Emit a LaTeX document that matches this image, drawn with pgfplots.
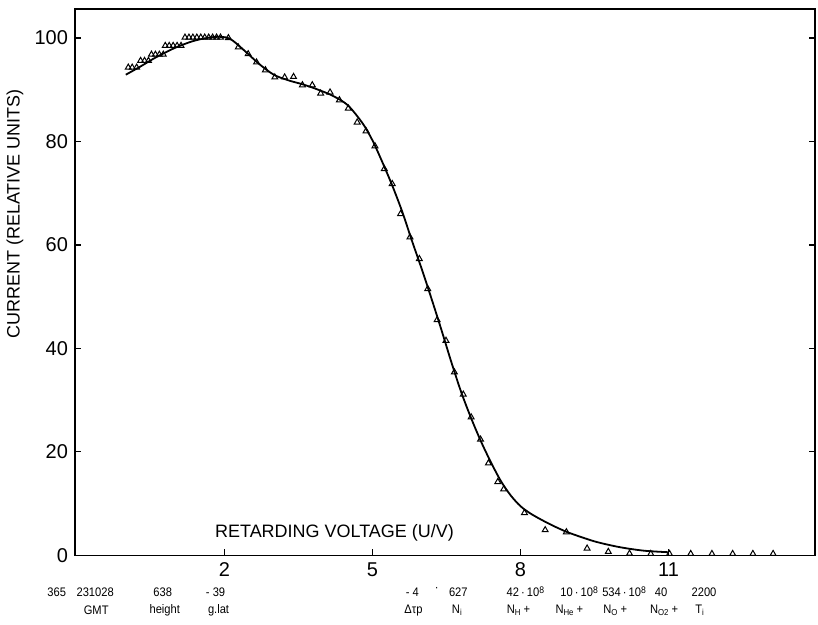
\documentclass[border=0pt]{standalone}
\usepackage{fontspec}
\setmainfont{Liberation Sans}
\newfontfamily\cond[FakeStretch=0.9]{Liberation Sans}
\usepackage{pgfplots}
\pgfplotsset{compat=1.18}
\newcommand{\expo}[1]{\raisebox{0.45ex}{\fontsize{4.8}{5}\selectfont #1}}

\begin{document}
\begin{tikzpicture}
\begin{axis}[
    width=370.5pt, height=273.5pt, scale only axis,
    xmin=-1.03, xmax=13.97, ymin=0, ymax=105.6,
    xtick={2,5,8,11}, ytick={0,20,40,60,80,100},
    xtick pos=lower, ytick pos=both,
    tick align=inside, major tick length=3pt,
    every tick/.style={black, line width=0.6pt},
    axis line style={line width=0.75pt},
    tick label style={font=\fontsize{10}{12}\selectfont},
    /pgf/number format/assume math mode=true,
    clip=false,
]
    % fitted curve
    \addplot[smooth, line width=0.9pt] coordinates {
        (0.0,92.9) (0.3,94.5) (0.6,96.2) (1.0,98.1) (1.4,99.5) (1.8,100.2)
        (2.1,99.9) (2.4,97.6) (2.7,95.0) (3.0,92.9) (3.3,91.8) (3.6,91.0)
        (3.9,90.0) (4.2,88.8) (4.5,87.0) (4.8,83.5) (5.0,80.2) (5.2,76.0)
        (5.4,71.5) (5.6,66.5) (5.8,60.8) (6.0,55.3) (6.2,49.5) (6.4,43.5)
        (6.6,37.3) (6.8,31.5) (7.0,26.5) (7.2,22.0) (7.4,18.0) (7.6,14.4)
        (7.8,11.6) (8.0,9.5) (8.2,8.1) (8.4,7.0) (8.6,6.0) (8.8,5.1)
        (9.0,4.3) (9.5,2.7) (10.0,1.6) (10.5,0.9) (11.0,0.6)
    };
    % measured points
    \addplot[only marks, mark=triangle, mark size=1.7pt, mark options={line width=0.5pt}] coordinates {
        (0.05,94.3) (0.13,94.3) (0.22,94.3)
        (0.30,95.6) (0.38,95.6) (0.46,95.6)
        (0.52,96.8) (0.60,96.8) (0.68,96.8) (0.76,96.8)
        (0.80,98.5) (0.88,98.5) (0.96,98.5) (1.04,98.5) (1.12,98.5)
        (1.20,100.1) (1.28,100.1) (1.36,100.1) (1.44,100.1) (1.52,100.1)
        (1.60,100.1) (1.68,100.1) (1.76,100.1) (1.84,100.1) (1.92,100.1)
        (2.08,100.0) (2.28,98.2) (2.48,96.9) (2.65,95.3) (2.83,93.8)
        (3.02,92.4) (3.22,92.4) (3.40,92.5) (3.58,90.9) (3.78,90.9)
        (3.95,89.3) (4.14,89.5) (4.33,88.0) (4.51,86.4) (4.69,83.7)
        (4.87,82.0) (5.05,79.1) (5.24,74.7) (5.40,71.8) (5.57,66.0)
        (5.76,61.5) (5.95,57.3) (6.12,51.5) (6.31,45.5) (6.49,41.5)
        (6.66,35.4) (6.84,31.1) (7.00,26.7) (7.19,22.4) (7.35,17.8)
        (7.54,14.2) (7.66,12.8) (8.08,8.2) (8.50,4.9) (8.93,4.5)
        (9.35,1.35) (9.78,0.7) (10.21,0.35) (10.64,0.3) (11.02,0.3)
        (11.45,0.3) (11.88,0.3) (12.30,0.3) (12.71,0.3) (13.12,0.3)
    };
    % axis labels
    \node[font=\fontsize{9}{11}\selectfont] at (axis cs:4.23,4.4) {RETARDING VOLTAGE (U/V)};
    \node[rotate=90, font=\fontsize{9}{11}\selectfont] at (rel axis cs:-0.081,0.625) {CURRENT (RELATIVE UNITS)};
    % parameter rows below the axis
    \begin{scope}[every node/.style={font=\cond\fontsize{6.2}{7}\selectfont, inner sep=0pt}]
    \node at (axis cs:-1.40,-7.1) {365};
    \node at (axis cs:-0.62,-7.1) {231028};
    \node at (axis cs:0.75,-7.1) {638};
    \node at (axis cs:1.82,-7.1) {- 39};
    \node at (axis cs:5.81,-7.1) {- 4};
    \node at (axis cs:6.30,-6.8) {\raisebox{1pt}{·}};
    \node at (axis cs:6.74,-7.1) {627};
    \node at (axis cs:8.10,-7.1) {42\,·\,10\expo{8}};
    \node at (axis cs:9.19,-7.1) {10\,·\,10\expo{8}};
    \node at (axis cs:10.10,-7.1) {534\,·\,10\expo{8}};
    \node at (axis cs:10.85,-7.1) {40};
    \node at (axis cs:11.72,-7.1) {2200};
    \node at (axis cs:-0.60,-10.6) {GMT};
    \node at (axis cs:0.79,-10.6) {height};
    \node at (axis cs:1.88,-10.6) {g.lat};
    \node at (axis cs:5.83,-10.6) {Δτp};
    \node at (axis cs:6.72,-10.6) {N\textsubscript{i}};
    \node at (axis cs:7.96,-10.6) {N\textsubscript{H}\,+};
    \node at (axis cs:8.99,-10.6) {N\textsubscript{He}\,+};
    \node at (axis cs:9.92,-10.6) {N\textsubscript{O}\,+};
    \node at (axis cs:10.91,-10.6) {N\textsubscript{O2}\,+};
    \node at (axis cs:11.64,-10.6) {T\textsubscript{i}};
    \end{scope}
    \coordinate (bbsw) at (rel axis cs:-0.0999,-0.126);
    \coordinate (bbne) at (rel axis cs:1.004,1.0165);
\end{axis}
\path (bbsw) rectangle (bbne);
\end{tikzpicture}
\end{document}
